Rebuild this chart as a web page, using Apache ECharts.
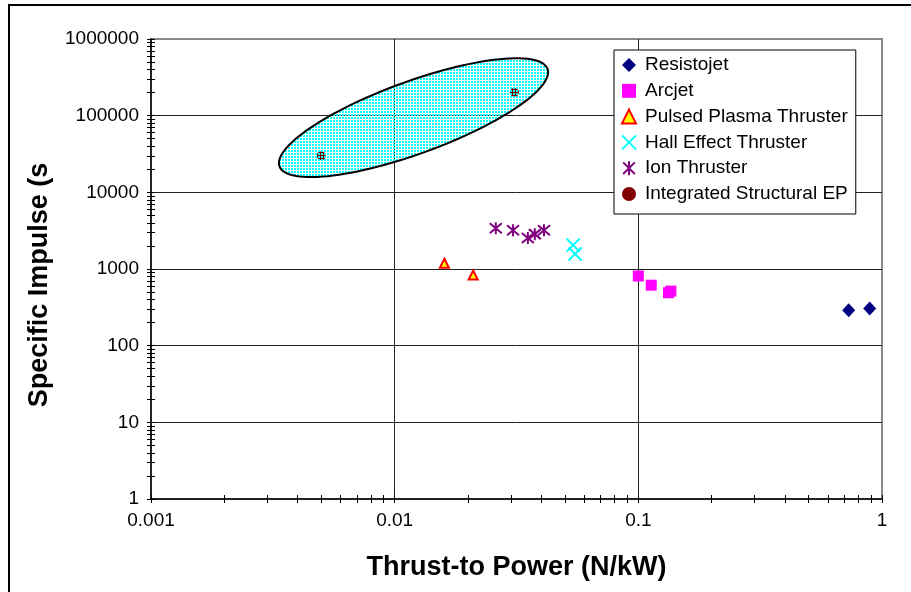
<!DOCTYPE html>
<html>
<head>
<meta charset="utf-8">
<script src="https://cdn.jsdelivr.net/npm/echarts@6/dist/echarts.min.js"></script>
<style>
  html, body { margin: 0; padding: 0; background: #fff; }
  #chart { width: 911px; height: 592px; }
</style>
</head>
<body>
<div id="chart"></div>
<script>
// Thrust-to-power (N/kW) and specific impulse (s) for each thruster family
const resistojetX = [0.73, 0.89];
const resistojetY = [290, 305];
const arcjetX = [0.1, 0.113, 0.133, 0.136];
const arcjetY = [810, 615, 490, 515];
const pulsedPlasmaX = [0.016, 0.021];
const pulsedPlasmaY = [1190, 835];
const hallX = [0.054, 0.055];
const hallY = [2050, 1570];
const ionX = [0.026, 0.0306, 0.0352, 0.0376, 0.041];
const ionY = [3400, 3200, 2530, 2850, 3200];
const structuralX = [0.005, 0.031];
const structuralY = [30000, 202000];

// Shaded region for integrated structural EP: centre, plus major/minor half-axes in decades (log10 x, log10 y)
const regionCentre = [0.01195, 94200];
const regionMajor = [0.550, 0.636];
const regionMinor = [0.051, -0.443];

// Axis label values
const xTickLabels = [0.001, 0.01, 0.1, 1];
const yTickLabels = [1, 10, 100, 1000, 10000, 100000, 1000000];

const seriesNames = ['Resistojet', 'Arcjet', 'Pulsed Plasma Thruster', 'Hall Effect Thruster', 'Ion Thruster', 'Integrated Structural EP'];

function zip(xs, ys) { return xs.map((x, i) => [x, ys[i]]); }

// Log ticks (1..9 x each decade)
function logTicks(lo, hi) {
  const out = [];
  for (let e = lo; e < hi; e++) {
    for (let m = 1; m <= 9; m++) out.push(+(m * Math.pow(10, e)).toPrecision(6));
  }
  out.push(+Math.pow(10, hi).toPrecision(6));
  return out;
}
const xAllTicks = logTicks(-3, 0);
const yAllTicks = logTicks(0, 6);

// Cyan dot-grid fill with transparent gaps
const patternCanvas = document.createElement('canvas');
patternCanvas.width = 3; patternCanvas.height = 3;
const pctx = patternCanvas.getContext('2d');
pctx.fillStyle = '#00FFFF';
pctx.fillRect(0, 0, 2, 2);

const FONT = '"Liberation Sans", Arial, sans-serif';
const labelStyle = { color: '#000', fontSize: 19, fontFamily: FONT };
const nameStyle = { color: '#000', fontSize: 27, fontWeight: 'bold', fontFamily: FONT };

const chart = echarts.init(document.getElementById('chart'), null, { renderer: 'canvas' });

const baseX = { type: 'log', logBase: 10, min: 0.001, max: 1, gridIndex: 0, splitNumber: 3, position: 'bottom', offset: 0 };
const baseY = { type: 'log', logBase: 10, min: 1, max: 1000000, gridIndex: 0, splitNumber: 6, position: 'left', offset: 0 };

// Tick-only overlay axes: one with ticks pointing in, one pointing out, so ticks cross the axis line
function tickAxis(base, ticks, inside) {
  return Object.assign({}, base, {
    axisLine: { show: false, onZero: false },
    axisTick: { show: true, inside: inside, length: 4, customValues: ticks, lineStyle: { color: '#000', width: 1 } },
    axisLabel: { show: false },
    splitLine: { show: false }
  });
}

chart.setOption({
  animation: false,
  backgroundColor: '#fff',
  grid: {
    left: 151, right: 29, top: 39, bottom: 93,
    show: true, borderColor: '#8a8a8a', borderWidth: 2, backgroundColor: '#fff'
  },
  graphic: [{
    type: 'polyline',
    shape: { points: [[9, 600], [9, 5], [920, 5]] },
    style: { stroke: '#000', lineWidth: 2, fill: null },
    silent: true
  }],
  xAxis: [
    Object.assign({}, baseX, {
      axisLine: { show: true, onZero: false, lineStyle: { color: '#000', width: 1.5 } },
      axisTick: { show: false },
      axisLabel: { show: true, customValues: xTickLabels, margin: 12, formatter: v => String(+(+v).toPrecision(6)), ...labelStyle },
      splitLine: { show: true, showMinLine: false, showMaxLine: false, lineStyle: { color: '#222', width: 1 } },
      name: 'Thrust-to Power (N/kW)', nameLocation: 'middle', nameGap: 55, nameTextStyle: nameStyle
    }),
    tickAxis(baseX, xAllTicks, true),
    tickAxis(baseX, xAllTicks, false)
  ],
  yAxis: [
    Object.assign({}, baseY, {
      axisLine: { show: true, onZero: false, lineStyle: { color: '#000', width: 1.5 } },
      axisTick: { show: false },
      axisLabel: { show: true, customValues: yTickLabels, margin: 12, formatter: v => String(Math.round(v)), ...labelStyle },
      splitLine: { show: true, showMinLine: false, showMaxLine: false, lineStyle: { color: '#222', width: 1 } },
      name: 'Specific Impulse (s', nameLocation: 'middle', nameGap: 98, nameRotate: 90,
      nameTextStyle: Object.assign({ padding: [0, 32, 0, 0] }, nameStyle)
    }),
    tickAxis(baseY, yAllTicks, true),
    tickAxis(baseY, yAllTicks, false)
  ],
  legend: {
    data: seriesNames,
    orient: 'vertical',
    left: 614, top: 50,
    padding: [5, 8, 10, 7],
    itemGap: 5.8,
    itemWidth: 14, itemHeight: 14,
    backgroundColor: '#fff',
    borderColor: '#000', borderWidth: 1, borderRadius: 0,
    textStyle: { color: '#000', fontSize: 19, fontFamily: FONT, lineHeight: 20, padding: [0, 0, 0, 4] }
  },
  series: [
    {
      name: 'Resistojet', type: 'scatter', data: zip(resistojetX, resistojetY),
      symbol: 'diamond', symbolSize: [13, 14], itemStyle: { color: '#000080', opacity: 1 }, z: 4
    },
    {
      name: 'Arcjet', type: 'scatter', data: zip(arcjetX, arcjetY),
      symbol: 'rect', symbolSize: 11, itemStyle: { color: '#FF00FF', opacity: 1 }, z: 4
    },
    {
      name: 'Pulsed Plasma Thruster', type: 'scatter', data: zip(pulsedPlasmaX, pulsedPlasmaY),
      symbol: 'triangle', symbolSize: [9, 9],
      itemStyle: { color: '#FFFF00', borderColor: '#FF0000', borderWidth: 2, opacity: 1 }, z: 4
    },
    {
      name: 'Hall Effect Thruster', type: 'scatter', data: zip(hallX, hallY),
      symbol: 'path://M0,0L10,10M10,0L0,10', symbolSize: 13,
      itemStyle: { color: 'transparent', borderColor: '#00FFFF', borderWidth: 2, opacity: 1 }, z: 4
    },
    {
      name: 'Ion Thruster', type: 'scatter', data: zip(ionX, ionY),
      symbol: 'path://M0,0L10,10M10,0L0,10M5,-1L5,11', symbolSize: 12,
      itemStyle: { color: 'transparent', borderColor: '#800080', borderWidth: 2, opacity: 1 }, z: 4
    },
    {
      name: 'Integrated Structural EP', type: 'scatter', data: zip(structuralX, structuralY),
      symbol: 'circle', symbolSize: 9, itemStyle: { color: '#800000', opacity: 1 }, z: 2
    },
    {
      name: 'region', type: 'custom', z: 3, silent: true,
      data: [regionCentre],
      renderItem: function (params, api) {
        const lx = Math.log10(regionCentre[0]);
        const ly = Math.log10(regionCentre[1]);
        const pts = [];
        const n = 120;
        for (let i = 0; i < n; i++) {
          const t = (i / n) * Math.PI * 2;
          const px = lx + regionMajor[0] * Math.cos(t) + regionMinor[0] * Math.sin(t);
          const py = ly + regionMajor[1] * Math.cos(t) + regionMinor[1] * Math.sin(t);
          pts.push(api.coord([Math.pow(10, px), Math.pow(10, py)]));
        }
        return {
          type: 'group',
          children: [
            { type: 'polygon', shape: { points: pts, smooth: 0 },
              style: { fill: { image: patternCanvas, repeat: 'repeat' }, stroke: null } },
            { type: 'polygon', shape: { points: pts, smooth: 0 },
              style: { fill: null, stroke: '#000', lineWidth: 2 } }
          ]
        };
      }
    }
  ]
});
</script>
</body>
</html>
